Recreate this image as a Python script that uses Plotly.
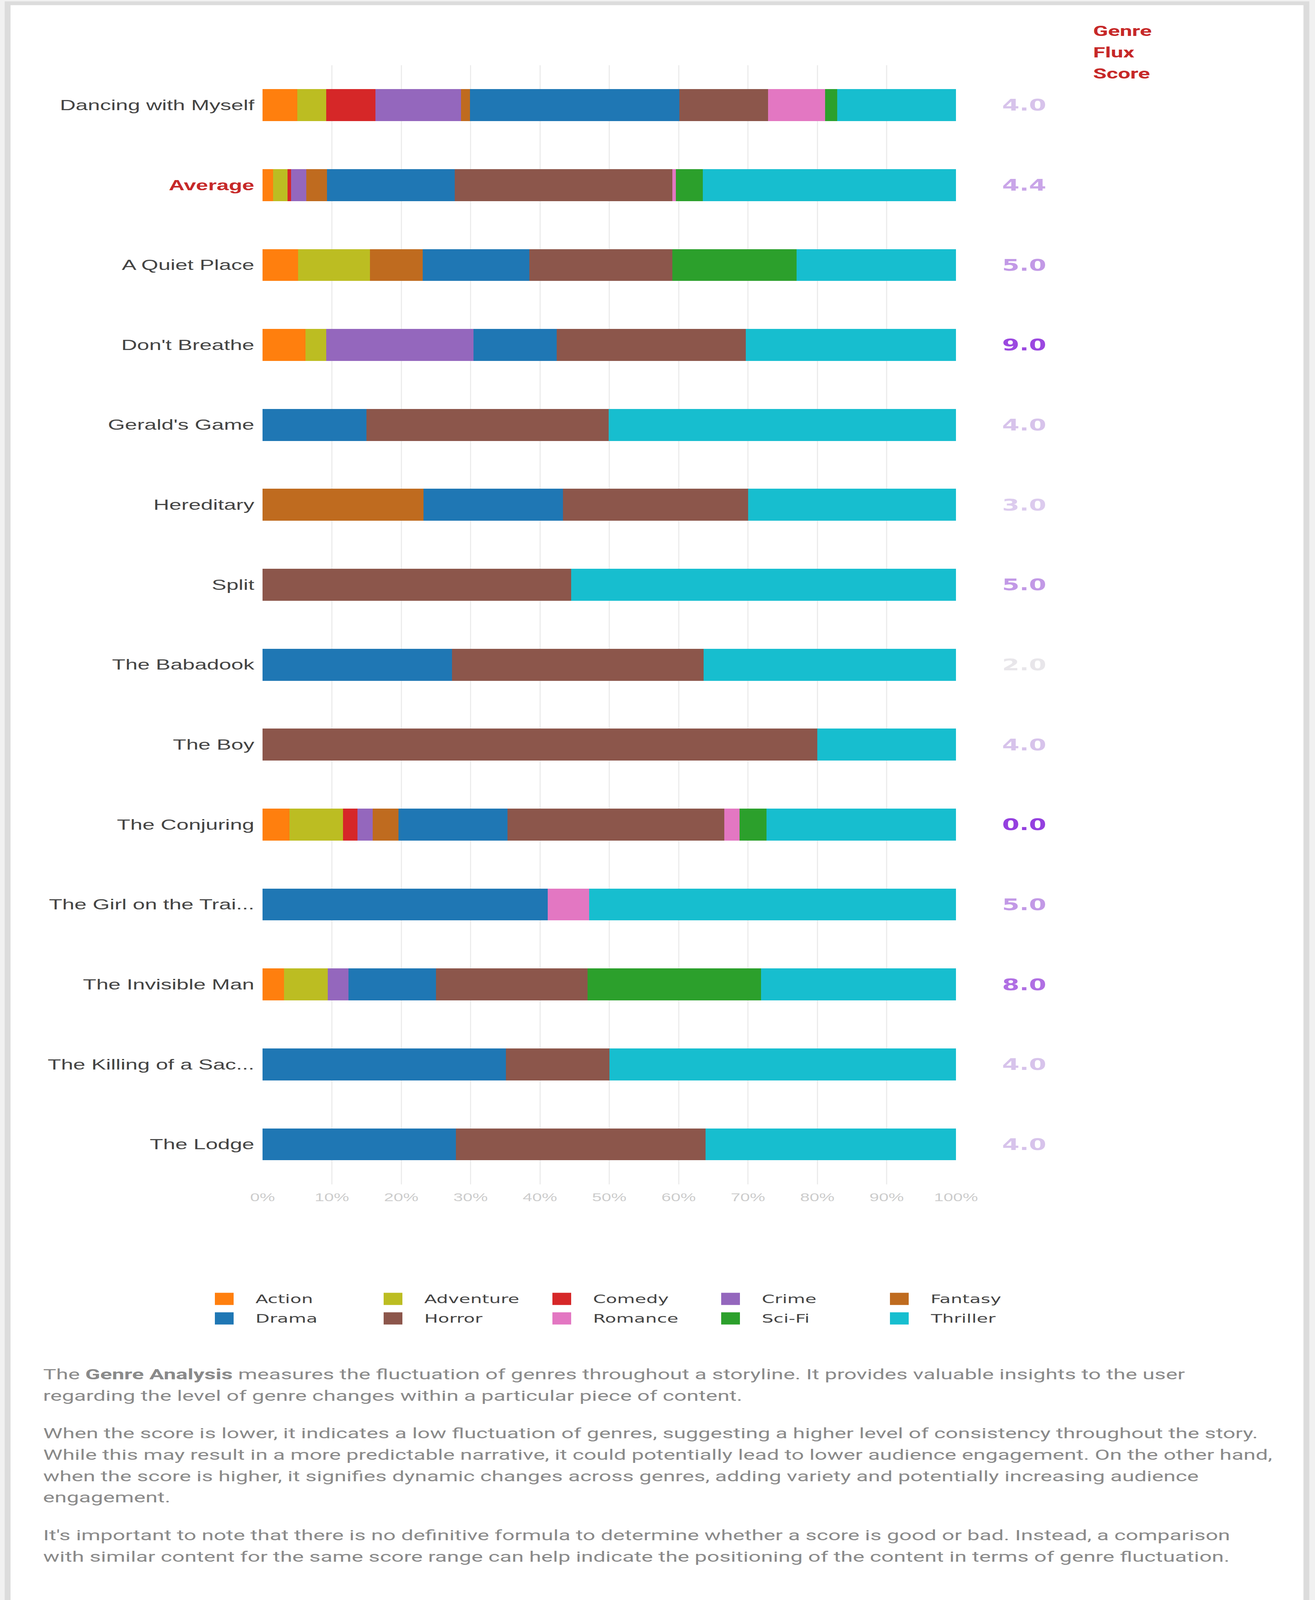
import plotly.graph_objects as go

# ---------------- data ----------------
categories = [
    "Dancing with Myself", "Average", "A Quiet Place", "Don't Breathe",
    "Gerald's Game", "Hereditary", "Split", "The Babadook", "The Boy",
    "The Conjuring", "The Girl on the Trai...", "The Invisible Man",
    "The Killing of a Sac...", "The Lodge",
]
genres = ["Action", "Adventure", "Comedy", "Crime", "Fantasy",
          "Drama", "Horror", "Romance", "Sci-Fi", "Thriller"]
genre_colors = ["#ff7f0e", "#bcbd22", "#d62728", "#9467bd", "#bf6b1f",
                "#1f77b4", "#8c564b", "#e377c2", "#2ca02c", "#17becf"]

action    = [5.0, 1.5, 5.1, 6.2, 0, 0, 0, 0, 0, 3.9, 0, 3.1, 0, 0]
adventure = [4.2, 2.1, 10.4, 3.0, 0, 0, 0, 0, 0, 7.7, 0, 6.3, 0, 0]
comedy    = [7.1, 0.5, 0, 0, 0, 0, 0, 0, 0, 2.1, 0, 0, 0, 0]
crime     = [12.3, 2.2, 0, 21.2, 0, 0, 0, 0, 0, 2.2, 0, 3.0, 0, 0]
fantasy   = [1.3, 3.0, 7.6, 0, 0, 23.2, 0, 0, 0, 3.7, 0, 0, 0, 0]
drama     = [30.2, 18.4, 15.4, 12.0, 15.0, 20.1, 0, 27.3, 0, 15.7, 41.1, 12.6, 35.1, 27.9]
horror    = [12.8, 31.4, 20.6, 27.3, 34.9, 26.7, 44.5, 36.3, 80.0, 31.3, 0, 21.9, 14.9, 36.0]
romance   = [8.2, 0.5, 0, 0, 0, 0, 0, 0, 0, 2.2, 6.0, 0, 0, 0]
scifi     = [1.8, 3.9, 17.9, 0, 0, 0, 0, 0, 0, 3.9, 0, 25.0, 0, 0]
thriller  = [17.1, 36.5, 23.0, 30.3, 50.1, 30.0, 55.5, 36.4, 20.0, 27.3, 52.9, 28.1, 50.0, 36.1]
series = [action, adventure, comedy, crime, fantasy, drama, horror, romance, scifi, thriller]

scores = [4.0, 4.4, 5.0, 9.0, 4.0, 3.0, 5.0, 2.0, 4.0, 0.0, 5.0, 8.0, 4.0, 4.0]
score_colors = ["#d7c3eb", "#c9a5e8", "#c299e6", "#9b48e0", "#d7c3eb", "#dccbee",
                "#c299e6", "#e8e6ea", "#d7c3eb", "#9440df", "#c299e6", "#b06fe3",
                "#d7c3eb", "#d7c3eb"]

x_tickvals = [0, 10, 20, 30, 40, 50, 60, 70, 80, 90, 100]
x_ticktext = ["0%", "10%", "20%", "30%", "40%", "50%", "60%", "70%", "80%", "90%", "100%"]
header_lines = ["Genre", "Flux", "Score"]
paragraphs = [
    ["The <b>Genre Analysis</b> measures the fluctuation of genres throughout a storyline. It provides valuable insights to the user",
     "regarding the level of genre changes within a particular piece of content."],
    ["When the score is lower, it indicates a low fluctuation of genres, suggesting a higher level of consistency throughout the story.",
     "While this may result in a more predictable narrative, it could potentially lead to lower audience engagement. On the other hand,",
     "when the score is higher, it signifies dynamic changes across genres, adding variety and potentially increasing audience",
     "engagement."],
    ["It's important to note that there is no definitive formula to determine whether a score is good or bad. Instead, a comparison",
     "with similar content for the same score range can help indicate the positioning of the content in terms of genre fluctuation."],
]

# ---------------- geometry (pixels) ----------------
W, H = 3366, 6285
L, R, T, B = 672, 2447, 256, 4652


def px_x(px):
    return (px - L) / (R - L)


def px_y(py):
    return (B - py) / (B - T)


RED = "#c62828"

fig = go.Figure()
for name, vals, col in zip(genres, series, genre_colors):
    fig.add_trace(go.Bar(
        name=name, y=categories, x=vals, orientation="h",
        marker=dict(color=col, line=dict(width=0)),
        showlegend=False,
        hovertemplate="%{y}<br>" + name + ": %{x}%<extra></extra>",
    ))

ticktext = [f'<b><span style="color:{RED}">{c}</span></b>' if c == "Average" else c
            for c in categories]

shapes = []
# card background with border
shapes.append(dict(type="rect", xref="paper", yref="paper", layer="below",
                   x0=px_x(19.5), x1=px_x(3344), y0=px_y(6400), y1=px_y(13),
                   fillcolor="white", line=dict(color="#dcdcdc", width=15)))

annotations = []
# score column
for c, s, col in zip(categories, scores, score_colors):
    annotations.append(dict(
        xref="paper", yref="y", x=px_x(2621), y=c, text=f"{s:.1f}",
        showarrow=False, xanchor="center", yanchor="middle",
        font=dict(family="DejaVu Sans", size=64, color=col, weight="bold"),
    ))
# header
for i, t in enumerate(header_lines):
    annotations.append(dict(
        xref="paper", yref="paper", x=px_x(2796), y=px_y(122 + 84 * i),
        text=f"<b>{t}</b>", showarrow=False, xanchor="left", yanchor="middle",
        font=dict(family="Roboto", size=56, color=RED),
    ))

# legend (two rows of five, large square keys)
leg_x0, leg_dx = 574, 432
leg_y = [5102, 5179]
for i, (name, col) in enumerate(zip(genres, genre_colors)):
    row, colm = divmod(i, 5)
    cx = leg_x0 + leg_dx * colm
    cy = leg_y[row]
    shapes.append(dict(type="rect", xref="paper", yref="paper",
                       x0=px_x(cx - 24), x1=px_x(cx + 24),
                       y0=px_y(cy + 24), y1=px_y(cy - 24),
                       fillcolor=col, line=dict(width=0)))
    annotations.append(dict(
        xref="paper", yref="paper", x=px_x(cx + 78), y=px_y(cy),
        text=name, showarrow=False, xanchor="left", yanchor="middle",
        font=dict(family="DejaVu Sans", size=47, color="#444444"),
    ))

# description paragraphs
line_h, para_gap = 84, 64
y_cur = 5399
for p in paragraphs:
    for line in p:
        annotations.append(dict(
            xref="paper", yref="paper", x=px_x(108), y=px_y(y_cur),
            text=line, showarrow=False, xanchor="left", yanchor="middle",
            font=dict(family="Roboto", size=56, color="#8a8a8a"),
        ))
        y_cur += line_h
    y_cur += para_gap

fig.update_layout(
    width=W, height=H,
    margin=dict(l=L, r=W - R, t=T, b=H - B, pad=0),
    barmode="stack", bargap=0.6,
    paper_bgcolor="#f1f1f1", plot_bgcolor="white",
    font=dict(family="Liberation Sans", color="#444444"),
    showlegend=False,
    shapes=shapes, annotations=annotations,
    xaxis=dict(range=[0, 100], tickmode="array", tickvals=x_tickvals, ticktext=x_ticktext,
               showgrid=True, gridcolor="#ececec", gridwidth=3,
               zeroline=False, showline=False, ticks="",
               tickfont=dict(family="Liberation Sans", size=44, color="#cccccc"),
               ticklabelstandoff=22, fixedrange=True),
    yaxis=dict(categoryorder="array", categoryarray=categories,
               autorange="reversed", tickvals=categories, ticktext=ticktext,
               showgrid=False, zeroline=False, showline=False, ticks="",
               tickfont=dict(family="Liberation Sans", size=56, color="#444444"),
               ticklabelstandoff=20, fixedrange=True),
)

# If the browser window is shorter than the figure, fit the whole figure
# into the visible window so that nothing is cut off.
fit_js = """
document.body.style.margin = '0';
(function () {
  var gd = document.getElementById('{plot_id}');
  var vh = window.innerHeight;
  if (gd && vh && vh < %d) {
    var s = vh / %d;
    gd.style.transformOrigin = '0 0';
    gd.style.transform = 'scaleY(' + s + ')';
    document.body.style.height = vh + 'px';
    document.body.style.overflow = 'hidden';
  }
})();
""" % (H, H)

fig.write_html("out.html", config={"displayModeBar": False}, post_script=fit_js)
